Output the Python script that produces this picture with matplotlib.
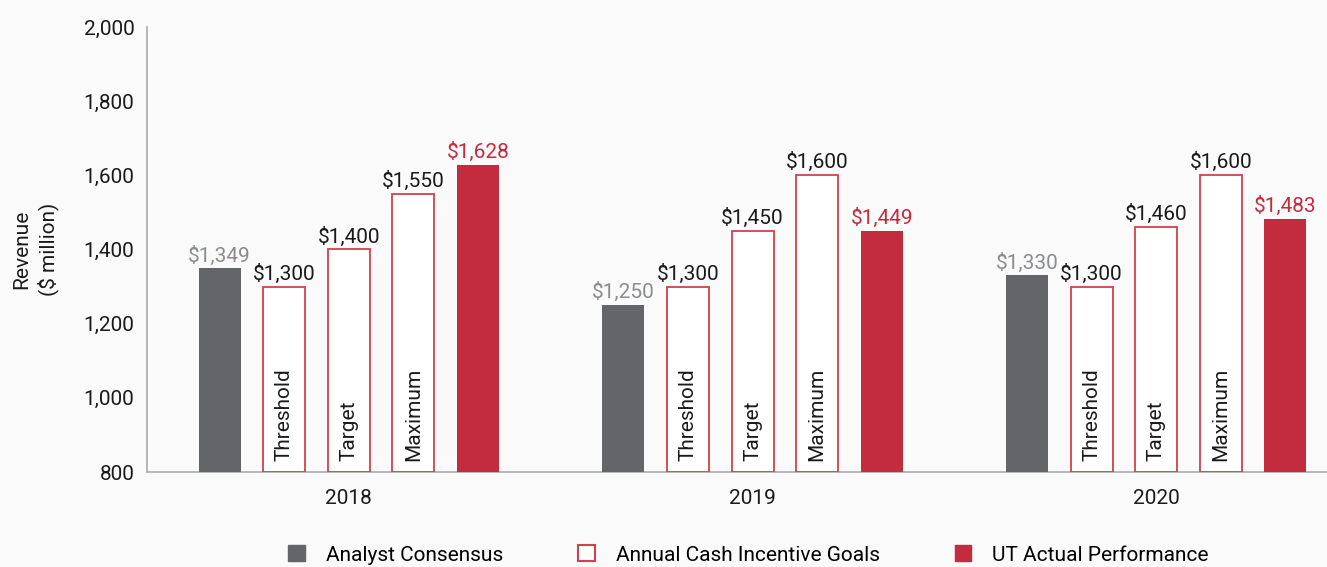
import matplotlib.pyplot as plt
import numpy as np
from matplotlib.patches import Patch

plt.rcParams['font.family'] = ['Roboto', 'DejaVu Sans']

years = ['2018', '2019', '2020']
analyst = [1349, 1250, 1330]
threshold = [1300, 1300, 1300]
target = [1400, 1450, 1460]
maximum = [1550, 1600, 1600]
actual = [1628, 1449, 1483]
goal_names = ['Threshold', 'Target', 'Maximum']
yticks = [800, 1000, 1200, 1400, 1600, 1800, 2000]

GRAY = '#636569'
GRAY_TXT = '#8a8c8f'
RED = '#c32b3e'
RED_EDGE = '#d0414e'
BG = '#fafafa'
INK = '#1a1a1a'

fig = plt.figure(figsize=(13.27, 5.67), dpi=100, facecolor=BG)
ax = fig.add_axes([0.1108, 0.1675, 0.8892, 0.785], facecolor=BG)

x = np.arange(len(years))
step = 0.16
w = 0.104
VAL_FS = 15

ax.bar(x - 2 * step, np.array(analyst) - 800, w, bottom=800, color=GRAY, zorder=3)
goals = [threshold, target, maximum]
for k, (vals, name) in enumerate(zip(goals, goal_names)):
    xs = x + (k - 1) * step
    ax.bar(xs, np.array(vals) - 800, w, bottom=800, facecolor='white',
           edgecolor=RED_EDGE, linewidth=1.3, zorder=3)
    for xi, v in zip(xs, vals):
        ax.text(xi, v + 8, f'${v:,}', ha='center', va='bottom', fontsize=VAL_FS, color=INK)
        ax.text(xi, 830, name, rotation=90, ha='center', va='bottom', fontsize=15, color=INK)
ax.bar(x + 2 * step, np.array(actual) - 800, w, bottom=800, color=RED, zorder=3)

for xi, v in zip(x - 2 * step, analyst):
    ax.text(xi, v + 8, f'${v:,}', ha='center', va='bottom', fontsize=VAL_FS, color=GRAY_TXT)
for xi, v in zip(x + 2 * step, actual):
    ax.text(xi, v + 8, f'${v:,}', ha='center', va='bottom', fontsize=VAL_FS, color=RED)

ax.set_xlim(-0.5, 2.423)
ax.set_ylim(800, 2000)
ax.set_yticks(yticks)
ax.set_yticklabels([f'{t:,}' for t in yticks])
ax.set_xticks(x)
ax.set_xticklabels(years)
ax.tick_params(axis='both', length=0, labelsize=15, colors=INK)
ax.tick_params(axis='y', pad=9)
ax.tick_params(axis='x', pad=12)
for s in ['top', 'right']:
    ax.spines[s].set_visible(False)
for s in ['left', 'bottom']:
    ax.spines[s].set_color('#a9abad')
    ax.spines[s].set_linewidth(1.2)
ax.set_ylabel('Revenue\n($ million)', fontsize=15, color=INK, labelpad=18, linespacing=1.35)

handles = [Patch(facecolor=GRAY, edgecolor=GRAY),
           Patch(facecolor='white', edgecolor=RED_EDGE, linewidth=1.5),
           Patch(facecolor=RED, edgecolor=RED)]
labels = ['Analyst Consensus', 'Annual Cash Incentive Goals', 'UT Actual Performance']
fig.legend(handles, labels, loc='center', bbox_to_anchor=(0.564, 0.021), ncol=3, frameon=False,
           fontsize=15, handlelength=0.8, handleheight=0.8, columnspacing=3.6, handletextpad=1.0,
           borderpad=0)

fig.savefig('out.png', dpi=100, facecolor=BG)
